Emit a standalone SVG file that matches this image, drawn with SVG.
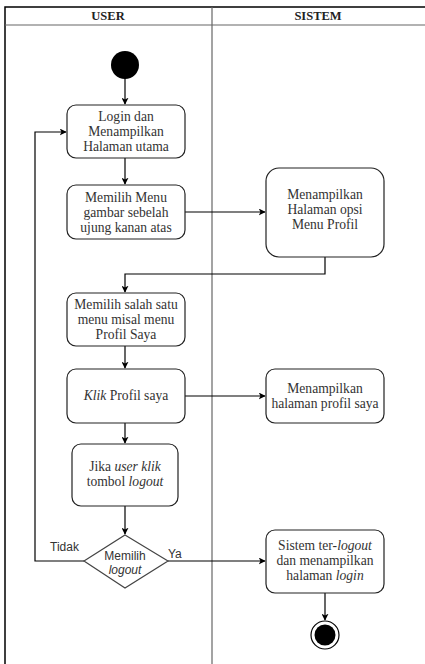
<svg xmlns="http://www.w3.org/2000/svg" width="425" height="664" viewBox="0 0 425 664">
  <style>
    .lane { fill: none; stroke: #000; stroke-width: 1.5; }
    .sep { fill: none; stroke: #666; stroke-width: 1.2; }
    .hd { font-family: "Liberation Serif", "Times New Roman", serif; font-size: 12.5px; font-weight: bold; fill: #222; text-anchor: middle; }
    .act { fill: #fff; stroke: #222; stroke-width: 1.2; }
    .txt { font-family: "Liberation Serif", "Times New Roman", serif; font-size: 13.6px; fill: #333; text-anchor: middle; }
    .sans { font-family: "Liberation Sans", Arial, sans-serif; font-size: 12px; fill: #333; }
    .dec { fill: #fff; stroke: #444; stroke-width: 1.2; }
    .edge { fill: none; stroke: #000; stroke-width: 1.2; }
  </style>
  <defs>
    <marker id="arrow" viewBox="0 0 10 10" refX="9" refY="5" markerWidth="7" markerHeight="7" orient="auto" markerUnits="userSpaceOnUse">
      <path d="M0,0 L10,5 L0,10 L2.5,5 Z" fill="#000"/>
    </marker>
  </defs>

  <!-- swimlane frame -->
  <g id="lanes">
    <rect x="0" y="0" width="425" height="664" fill="#fff"/>
    <path class="lane" d="M5,664 V7 H425"/>
    <line class="sep" x1="5" y1="25" x2="425" y2="25"/>
    <line class="sep" x1="212" y1="7" x2="212" y2="664"/>
    <text class="hd" x="108" y="20">USER</text>
    <text class="hd" x="318" y="20">SISTEM</text>
  </g>

  <!-- connectors -->
  <g id="connectors">
    <line class="edge" x1="125" y1="78" x2="125" y2="104" marker-end="url(#arrow)"/>
    <line class="edge" x1="125" y1="158" x2="125" y2="184" marker-end="url(#arrow)"/>
    <line class="edge" x1="185" y1="212" x2="265" y2="212" marker-end="url(#arrow)"/>
    <path class="edge" d="M325,257 V274 H125 V292" marker-end="url(#arrow)"/>
    <line class="edge" x1="125" y1="346" x2="125" y2="368" marker-end="url(#arrow)"/>
    <line class="edge" x1="185" y1="396" x2="265" y2="396" marker-end="url(#arrow)"/>
    <line class="edge" x1="125" y1="423" x2="125" y2="443" marker-end="url(#arrow)"/>
    <line class="edge" x1="125" y1="506" x2="125" y2="534" marker-end="url(#arrow)"/>
    <path class="edge" d="M84,561 H35 V132 H66" marker-end="url(#arrow)"/>
    <line class="edge" x1="168" y1="561" x2="265" y2="561" marker-end="url(#arrow)"/>
    <line class="edge" x1="325" y1="593" x2="325" y2="620" marker-end="url(#arrow)"/>
    <text class="sans" x="50" y="551">Tidak</text>
    <text class="sans" x="168" y="558">Ya</text>
  </g>

  <!-- start node -->
  <g id="start">
    <circle cx="125" cy="65" r="14" fill="#000"/>
  </g>

  <g id="login">
    <rect class="act" x="67" y="105" width="118" height="53" rx="9"/>
    <text class="txt" x="126" y="121">Login dan</text>
    <text class="txt" x="126" y="136">Menampilkan</text>
    <text class="txt" x="126" y="151">Halaman utama</text>
  </g>

  <g id="pilih-menu">
    <rect class="act" x="67" y="185" width="118" height="54" rx="9"/>
    <text class="txt" x="126" y="202">Memilih Menu</text>
    <text class="txt" x="126" y="217">gambar sebelah</text>
    <text class="txt" x="126" y="232">ujung kanan atas</text>
  </g>

  <g id="opsi-menu">
    <rect class="act" x="266" y="168" width="118" height="89" rx="13"/>
    <text class="txt" x="325" y="199">Menampilkan</text>
    <text class="txt" x="325" y="214">Halaman opsi</text>
    <text class="txt" x="325" y="229">Menu Profil</text>
  </g>

  <g id="pilih-profil">
    <rect class="act" x="67" y="293" width="118" height="53" rx="9"/>
    <text class="txt" x="126" y="309">Memilih salah satu</text>
    <text class="txt" x="126" y="324">menu misal menu</text>
    <text class="txt" x="126" y="339">Profil Saya</text>
  </g>

  <g id="klik-profil">
    <rect class="act" x="67" y="369" width="118" height="54" rx="9"/>
    <text class="txt" x="126" y="400"><tspan font-style="italic">Klik</tspan> Profil saya</text>
  </g>

  <g id="halaman-profil">
    <rect class="act" x="266" y="369" width="118" height="54" rx="9"/>
    <text class="txt" x="325" y="393">Menampilkan</text>
    <text class="txt" x="325" y="408">halaman profil saya</text>
  </g>

  <g id="klik-logout">
    <rect class="act" x="72" y="444" width="106" height="62" rx="9"/>
    <text class="txt" x="125" y="471">Jika <tspan font-style="italic">user klik</tspan></text>
    <text class="txt" x="125" y="486">tombol <tspan font-style="italic">logout</tspan></text>
  </g>

  <g id="pilih-logout">
    <polygon class="dec" points="125,535 168,561 125,588 84,561"/>
    <text class="sans" x="125" y="560" text-anchor="middle">Memilih</text>
    <text class="sans" x="125" y="574" text-anchor="middle" font-style="italic">logout</text>
  </g>

  <g id="logout">
    <rect class="act" x="266" y="530" width="118" height="63" rx="9"/>
    <text class="txt" x="325" y="550">Sistem ter-<tspan font-style="italic">logout</tspan></text>
    <text class="txt" x="325" y="565">dan menampilkan</text>
    <text class="txt" x="325" y="580">halaman <tspan font-style="italic">login</tspan></text>
  </g>

  <!-- end node -->
  <g id="end">
    <circle cx="325" cy="635" r="14" fill="#fff" stroke="#000" stroke-width="1.2"/>
    <circle cx="325" cy="635" r="10.5" fill="#000"/>
  </g>
</svg>
